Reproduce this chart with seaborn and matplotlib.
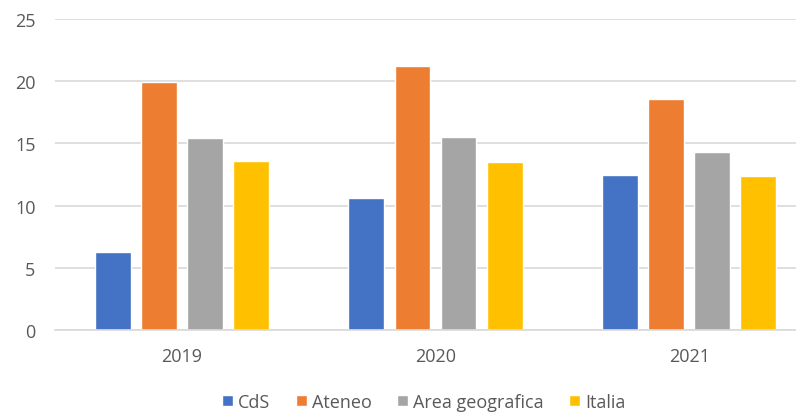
import matplotlib
matplotlib.use("Agg")
import matplotlib.pyplot as plt
import seaborn as sns
import pandas as pd

years = ["2019", "2020", "2021"]
series = ["CdS", "Ateneo", "Area geografica", "Italia"]
cds = [6.3, 10.6, 12.5]
ateneo = [19.9, 21.2, 18.6]
area = [15.4, 15.5, 14.3]
italia = [13.6, 13.5, 12.4]
colors = ["#4472C4", "#ED7D31", "#A5A5A5", "#FFC000"]

rows = []
for name, vals in zip(series, [cds, ateneo, area, italia]):
    for y, v in zip(years, vals):
        rows.append({"Anno": y, "Serie": name, "Valore": v})
df = pd.DataFrame(rows)

sns.set_theme(style="white")
plt.rcParams["font.family"] = ["Open Sans", "DejaVu Sans"]

fig = plt.figure(figsize=(7.96, 4.14), dpi=100)
ax = fig.add_axes([55/796, (414-331)/414, (816-55)/796, (331-20)/414])

sns.barplot(data=df, x="Anno", y="Valore", hue="Serie", order=years,
            hue_order=series, palette=colors, width=0.726, gap=0.22,
            saturation=1, ax=ax, legend=True)

ax.set_ylim(0, 25)
ax.set_yticks([0, 5, 10, 15, 20, 25])
ax.set_xlim(-0.5, 2.5)
ax.yaxis.grid(True, color="#D9D9D9", linewidth=1.2)
ax.set_axisbelow(True)
for s in ["top", "right", "left"]:
    ax.spines[s].set_visible(False)
ax.spines["bottom"].set_color("#D9D9D9")
ax.spines["bottom"].set_linewidth(1.2)
ax.set_xlabel("")
ax.set_ylabel("")
ax.tick_params(axis="both", length=0, labelsize=13, labelcolor="#595959")
ax.tick_params(axis="y", pad=14)
ax.tick_params(axis="x", pad=12)

handles, labels = ax.get_legend_handles_labels()
ax.get_legend().remove()
fig.legend(handles, labels, loc="center", bbox_to_anchor=(424/796, 1 - 403/414),
           ncol=4, frameon=False, fontsize=13, labelcolor="#595959",
           handlelength=0.6, handleheight=0.6, handletextpad=0.3,
           columnspacing=1.4)

fig.savefig("out.png", dpi=100)
